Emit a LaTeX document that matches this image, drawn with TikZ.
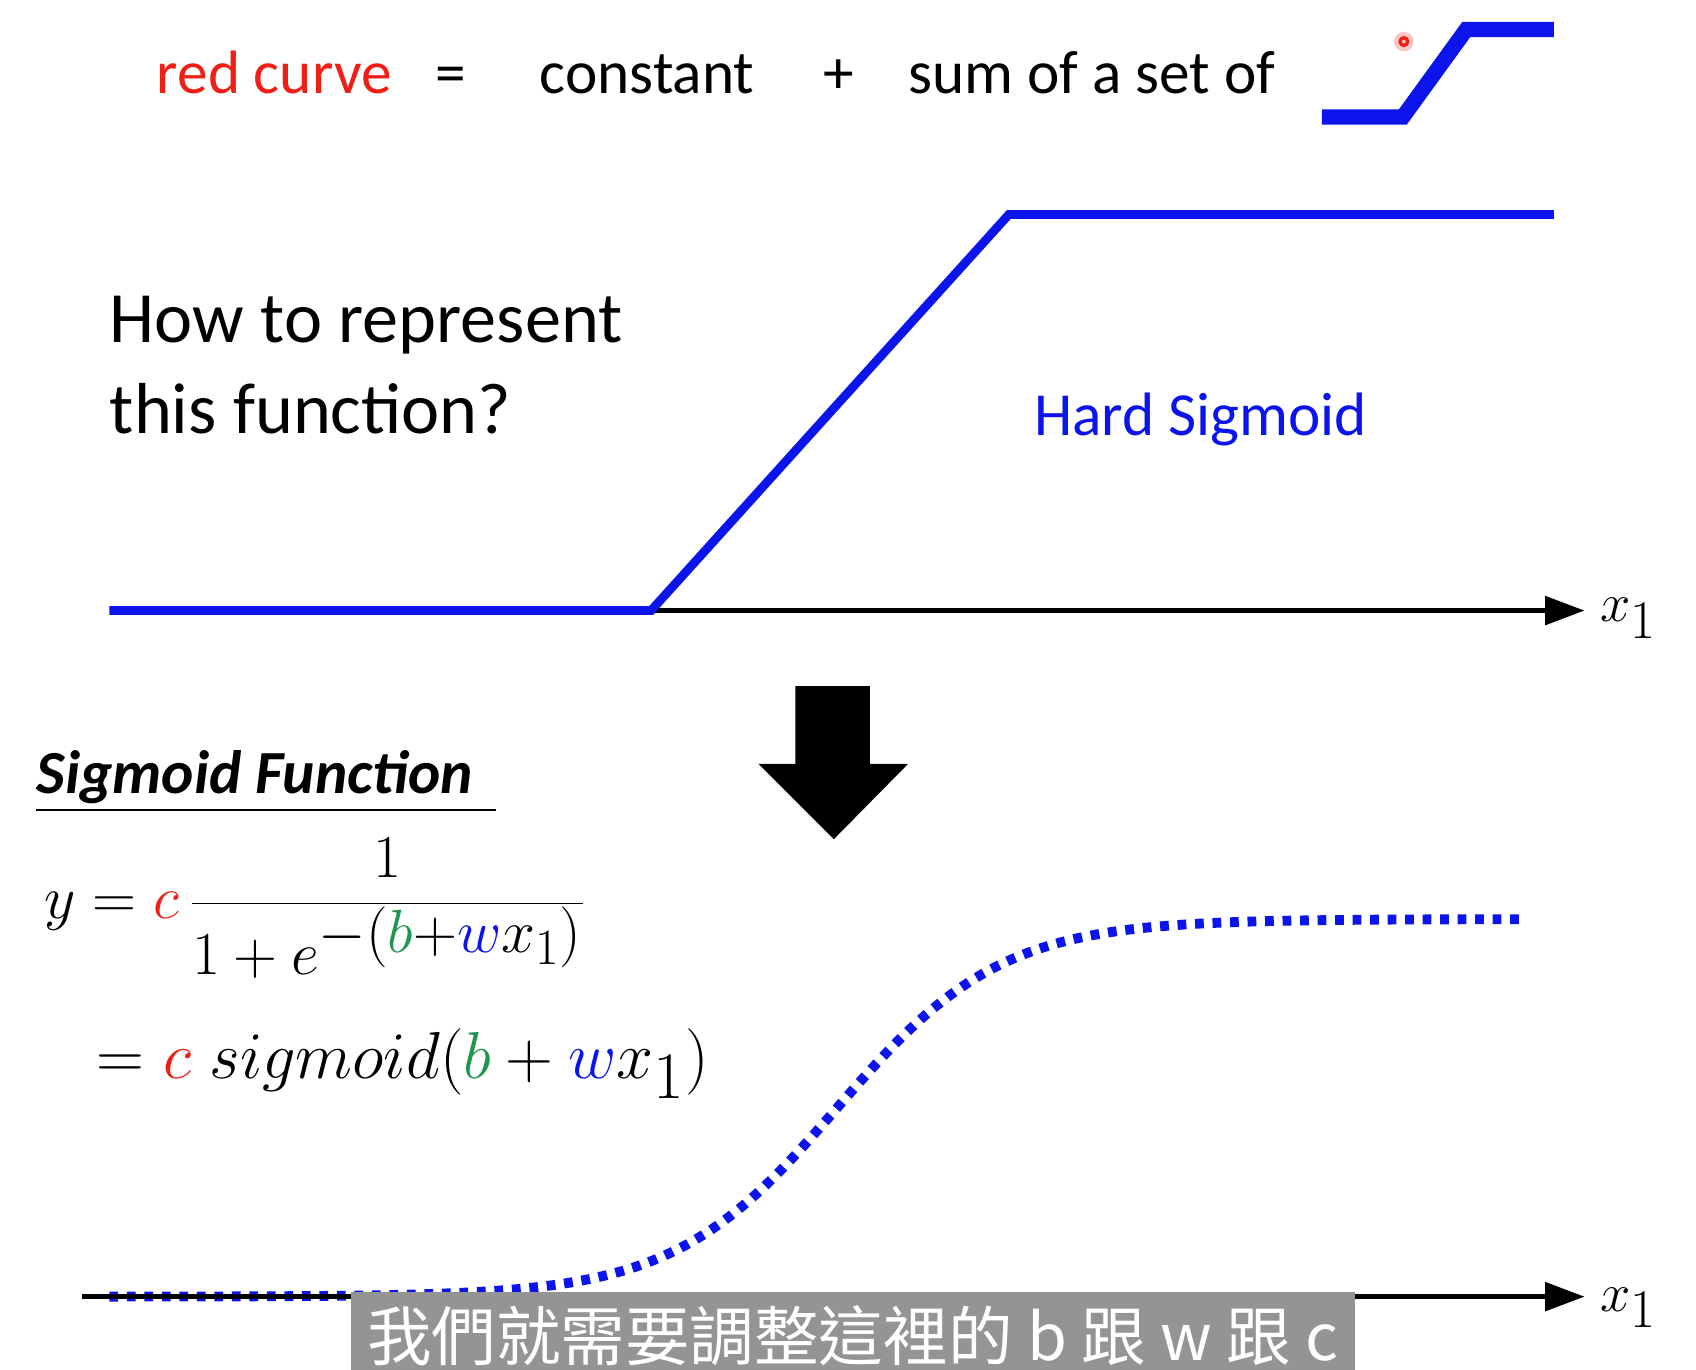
\documentclass[tikz,border=0pt]{standalone}
\usepackage{fontspec}
\setmainfont{Carlito}
\newfontfamily\cjk{Noto Sans CJK TC}
\usetikzlibrary{arrows.meta}
\definecolor{myblue}{RGB}{10,20,235}
\definecolor{myred}{RGB}{240,30,20}
\definecolor{mygreen}{RGB}{30,150,80}
\begin{document}
\begin{tikzpicture}[x=0.5pt,y=-0.5pt,
  txt/.style={anchor=base west,inner sep=0pt,font=\fontsize{28}{32}\selectfont},
  big/.style={anchor=base west,inner sep=0pt,font=\fontsize{33}{40}\selectfont},
  blueline/.style={myblue,line width=4pt},
  axis/.style={black,line width=2pt,-{Triangle[length=18pt,width=13pt]}}]
\useasboundingbox (0,0) rectangle (1550,1252);
% top line
\node[txt,text=myred] (rc) at (143,85) {red curve};
\node[txt] (eq) at (398,85) {=};
\node[txt] (cst) at (493,85) {constant};
\node[txt] (pl) at (752,85) {+};
\node[txt] (sum) at (830,85) {sum of a set of};
\coordinate (s1) at (1208,107); \coordinate (s2) at (1282,107);
\coordinate (s3) at (1340,27); \coordinate (s4) at (1420,27);
\draw[myblue,line width=7pt] (s1)--(s2)--(s3)--(s4);
\fill[myred!25] (1283,38) circle (9);
\draw[myred,line width=1.5pt] (1283,38) circle (3.5);
% hard sigmoid
\coordinate (h0) at (100,558); \coordinate (h1) at (595,558);
\coordinate (h2) at (922,196); \coordinate (h3) at (1420,196);
\coordinate (ax1e) at (1448,558);
\draw[axis] (h1) -- (ax1e);
\draw[blueline,line join=miter] (h0)--(h1)--(h2)--(h3);
\node[anchor=west,inner sep=0pt,font=\fontsize{36}{40}\selectfont] (x1a) at (1462,565) {$x_1$};
\node[big] (how) at (100,313) {How to represent};
\node[big] (this) at (100,396) {this function?};
\node[txt,text=myblue] (hs) at (945,398) {Hard Sigmoid};
% big arrow
\fill[black] (727,627) -- (795,627) -- (795,698) -- (830,698) -- (762,767) -- (693,698) -- (727,698) -- cycle;
% sigmoid function title
\node[anchor=base west,inner sep=0pt,font=\fontsize{28}{30}\selectfont\bfseries\itshape] (sf) at (33,725) {Sigmoid Function};
\draw[line width=1pt] (33,740) -- (453,740);
\node[anchor=west,inner sep=0pt,font=\fontsize{40}{46}\selectfont,scale=1.12] (f1) at (40,830)
 {$\displaystyle y={\color{myred}c}\,\frac{1}{1+e^{-({\color{mygreen}b}+{\color{myblue}w}x_1)}}$};
\node[anchor=west,inner sep=0pt,font=\fontsize{40}{46}\selectfont,scale=1.22] (f2) at (88,972)
 {$={\color{myred}c}\;\mathnormal{sigmoid}({\color{mygreen}b}+{\color{myblue}w}x_1)$};
% bottom axis and sigmoid
\coordinate (b0) at (75,1185); \coordinate (b1) at (1448,1185);
\draw[myblue,line width=4.5pt,dash pattern=on 4pt off 4pt] plot[domain=100:1390,samples=150,smooth] (\x,{1185-345/(1+exp(-(\x-765)/75))});
\draw[axis] (b0) -- (b1);
\node[anchor=west,inner sep=0pt,font=\fontsize{36}{40}\selectfont] (x1b) at (1462,1195) {$x_1$};
% subtitle
\node[fill=black!42,text=white,inner sep=0pt,minimum width=459pt,minimum height=40pt,font=\cjk\fontsize{29.5}{32}\selectfont,anchor=north west] (sub) at (320,1180) {我們就需要調整這裡的 b 跟 w 跟 c};
\end{tikzpicture}
\end{document}
